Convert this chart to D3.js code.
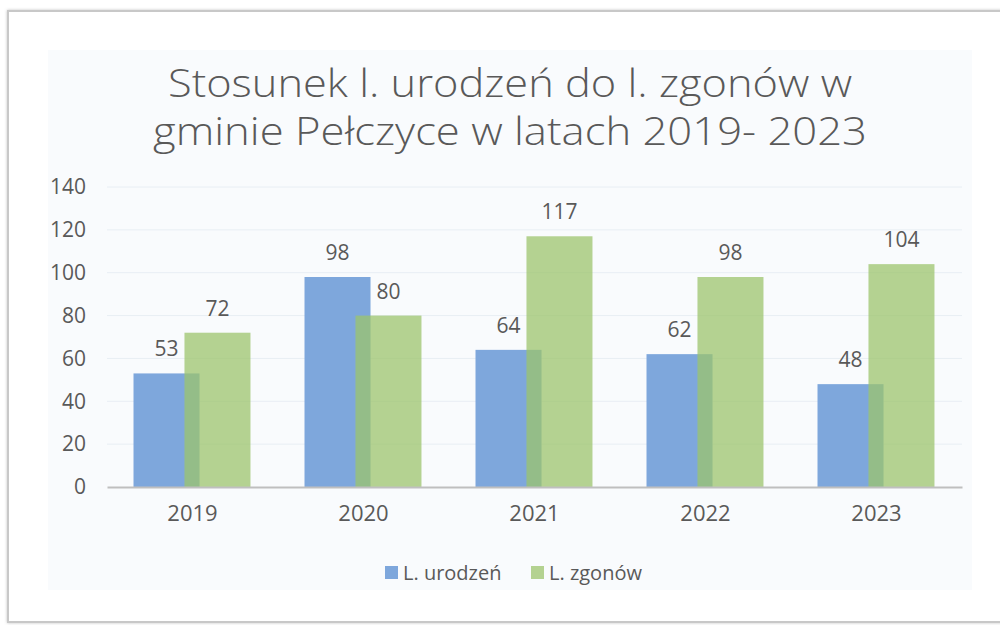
<!DOCTYPE html>
<html>
<head>
<meta charset="utf-8">
<script src="https://cdn.jsdelivr.net/npm/d3@7"></script>
<style>
  body { margin: 0; background: #fff; }
  text { font-family: "Open Sans", sans-serif; fill: #595959; }
</style>
</head>
<body>
<svg id="chart" width="1000" height="625"></svg>
<script>
// data
var years = ["2019", "2020", "2021", "2022", "2023"];
var births = [53, 98, 64, 62, 48];
var deaths = [72, 80, 117, 98, 104];
var yTicks = [0, 20, 40, 60, 80, 100, 120, 140];
var seriesNames = ["L. urodzeń", "L. zgonów"];
var titleLines = ["Stosunek l. urodzeń do l. zgonów w", "gminie Pełczyce w latach 2019- 2023"];

var blue = "#7ea7dc";
var green = "#9cc46c";

var svg = d3.select("#chart");

// frame with a soft shadow
var defs = svg.append("defs");
var f = defs.append("filter").attr("id", "shadow").attr("x", "-5%").attr("y", "-5%").attr("width", "110%").attr("height", "110%");
f.append("feDropShadow").attr("dx", 0).attr("dy", 0).attr("stdDeviation", 1.5).attr("flood-color", "#999").attr("flood-opacity", 0.6);

svg.append("rect")
    .attr("x", 8).attr("y", 11).attr("width", 1010).attr("height", 611)
    .attr("fill", "#fff").attr("stroke", "#c8c8c8").attr("stroke-width", 2)
    .attr("filter", "url(#shadow)");

// light chart area
svg.append("rect")
    .attr("x", 48).attr("y", 50).attr("width", 924).attr("height", 540)
    .attr("fill", "#f9fbfd");

// title
svg.append("g").selectAll("text")
    .data(titleLines)
    .enter().append("text")
    .attr("x", 510)
    .attr("y", function(d, i) { return 97 + i * 48; })
    .attr("text-anchor", "middle")
    .attr("font-size", 38)
    .attr("font-weight", 300)
    .attr("textLength", function(d, i) { return i === 0 ? 684 : 714; })
    .attr("lengthAdjust", "spacingAndGlyphs")
    .text(function(d) { return d; });

var x = d3.scaleBand().domain(years).range([107, 962]);
var y = d3.scaleLinear().domain([0, 140]).range([487, 187]);
var bw = x.bandwidth();

// gridlines
svg.append("g").selectAll("line")
    .data(yTicks.slice(1))
    .enter().append("line")
    .attr("x1", 107).attr("x2", 962)
    .attr("y1", function(d) { return y(d); })
    .attr("y2", function(d) { return y(d); })
    .attr("stroke", "#e8eef4").attr("stroke-width", 1);

// y axis labels
var yAxis = d3.axisLeft(y).tickValues(yTicks).tickSize(0).tickPadding(0);
var gy = svg.append("g").attr("transform", "translate(86,0)").call(yAxis);
gy.select(".domain").remove();
gy.selectAll("text").attr("font-size", 21).attr("fill", "#595959").attr("font-family", "Open Sans, sans-serif");

// bars
var blueOff = 0.155, greenOff = 0.453, barW = 0.386;

svg.append("g").selectAll("rect")
    .data(births)
    .enter().append("rect")
    .attr("x", function(d, i) { return x(years[i]) + bw * blueOff; })
    .attr("width", bw * barW)
    .attr("y", function(d) { return y(d); })
    .attr("height", function(d) { return y(0) - y(d); })
    .attr("fill", blue);

svg.append("g").selectAll("rect")
    .data(deaths)
    .enter().append("rect")
    .attr("x", function(d, i) { return x(years[i]) + bw * greenOff; })
    .attr("width", bw * barW)
    .attr("y", function(d) { return y(d); })
    .attr("height", function(d) { return y(0) - y(d); })
    .attr("fill", green).attr("fill-opacity", 0.75);

// x axis
var xAxis = d3.axisBottom(x).tickSize(0).tickPadding(0);
var gx = svg.append("g").attr("transform", "translate(0,487)").call(xAxis);
gx.select(".domain").attr("stroke", "#bfbfbf").attr("stroke-width", 2);
gx.selectAll("text").attr("font-size", 22).attr("fill", "#595959")
    .attr("font-family", "Open Sans, sans-serif").attr("dy", "1.55em");

// value labels
svg.append("g").selectAll("text")
    .data(births)
    .enter().append("text")
    .attr("x", function(d, i) { return x(years[i]) + bw * (blueOff + barW / 2); })
    .attr("y", function(d) { return y(d) - 17; })
    .attr("text-anchor", "middle").attr("font-size", 21)
    .text(function(d) { return d; });

svg.append("g").selectAll("text")
    .data(deaths)
    .enter().append("text")
    .attr("x", function(d, i) { return x(years[i]) + bw * (greenOff + barW / 2); })
    .attr("y", function(d) { return y(d) - 17; })
    .attr("text-anchor", "middle").attr("font-size", 21)
    .text(function(d) { return d; });

// legend
var legend = svg.append("g");
var legX = [385, 531];
seriesNames.forEach(function(name, i) {
    legend.append("rect")
        .attr("x", legX[i]).attr("y", 566).attr("width", 13).attr("height", 13)
        .attr("fill", i === 0 ? blue : green).attr("fill-opacity", i === 0 ? 1 : 0.75);
    legend.append("text")
        .attr("x", legX[i] + 18).attr("y", 580)
        .attr("font-size", 20)
        .text(name);
});
</script>
</body>
</html>
